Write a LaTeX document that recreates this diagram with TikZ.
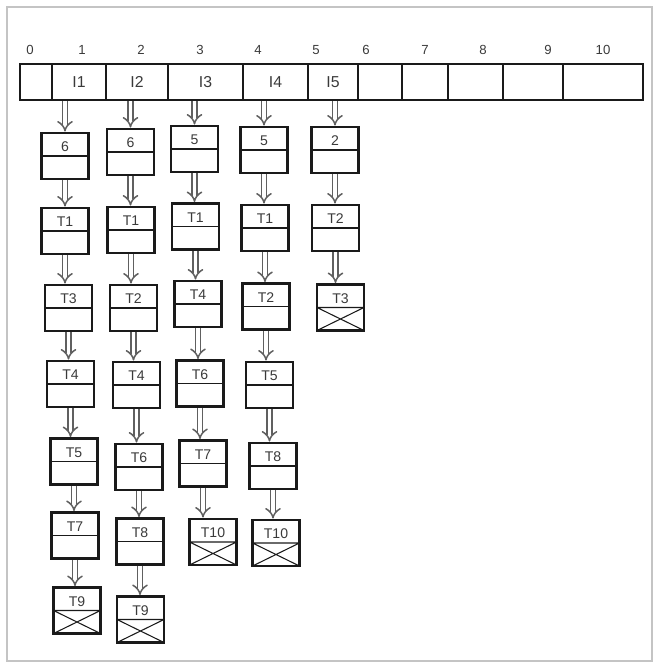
\documentclass[tikz,border=0pt]{standalone}
\usepackage{fontspec}
\setmainfont{Liberation Sans}
\usetikzlibrary{
	arrows.meta,
	positioning
}
\definecolor{FrameGray}{HTML}{C4C4C4}
\definecolor{BoxInk}{HTML}{1A1A1A}
\definecolor{LabelInk}{HTML}{3A3A3A}
\definecolor{ArrowInk}{HTML}{606060}

\begin{document}
\begin{tikzpicture}[
 x=0.02cm,y=-0.02cm,
 font=\fontsize{8}{9}\selectfont,
 acell/.style={draw=BoxInk,line width=1.6pt,minimum height=0.72cm,
   minimum width=#1*0.02cm,inner sep=0pt,text=LabelInk,
   font=\fontsize{9}{10}\selectfont},
 idx/.style={text=LabelInk,font=\fontsize{7.5}{9}\selectfont},
 lnode/.style={draw=BoxInk,line width=1.6pt,minimum width=0.94cm,
   minimum height=0.92cm,inner sep=0pt,text=LabelInk,
   text height=1.6ex,text depth=0.46cm,
   path picture={\draw[line width=.6pt]
     (path picture bounding box.west)--(path picture bounding box.east);}},
 endnode/.style={lnode,
   path picture={\draw[line width=.6pt]
     (path picture bounding box.west)--(path picture bounding box.east)
     (path picture bounding box.west)--(path picture bounding box.south east)
     (path picture bounding box.east)--(path picture bounding box.south west);}},
 flow/.style={draw=ArrowInk,line width=.85pt,double,double distance=2.2pt,
   -{Implies}}
]
 \useasboundingbox (0,0) rectangle (657,668);
 \draw[FrameGray,line width=.8pt] (7,7) rectangle (652,661);

 % array of items
 \foreach \i/\cx/\w/\t in {0/36/32/{},1/79/54/I1,2/137/62/I2,3/205.5/75/I3,
   4/275.5/65/I4,5/333/50/I5,6/380/44/{},7/425/46/{},8/475.5/55/{},
   9/533/60/{},10/603/80/{}}
   \node[acell=\w] (c\i) at (\cx,82) {\t};
 \foreach \i/\lx in {0/30,1/82,2/141,3/200,4/258,5/316,6/366,7/425,
   8/483,9/548,10/603}
   \node[idx] (idx\i) at (\lx,50) {\i};

 % column under I1
 \node[lnode] (n11) at (65,156) {6};
 \node[lnode] (n12) at (65,231) {T1};
 \node[lnode] (n13) at (68.5,308) {T3};
 \node[lnode] (n14) at (70.5,384) {T4};
 \node[lnode] (n15) at (74,461.5) {T5};
 \node[lnode] (n16) at (75,535.5) {T7};
 \node[endnode] (n17) at (77,610.5) {T9};
 % column under I2
 \node[lnode] (n21) at (130.5,152) {6};
 \node[lnode] (n22) at (131,230) {T1};
 \node[lnode] (n23) at (133.5,308) {T2};
 \node[lnode] (n24) at (136.5,385) {T4};
 \node[lnode] (n25) at (139,467) {T6};
 \node[lnode] (n26) at (140,541.5) {T8};
 \node[endnode] (n27) at (140.5,619.5) {T9};
 % column under I3
 \node[lnode] (n31) at (194.5,149) {5};
 \node[lnode] (n32) at (195.5,226.5) {T1};
 \node[lnode] (n33) at (198,304) {T4};
 \node[lnode] (n34) at (200,383.5) {T6};
 \node[lnode] (n35) at (203,463.5) {T7};
 \node[endnode] (n36) at (213,542) {T10};
 % column under I4
 \node[lnode] (n41) at (264,150) {5};
 \node[lnode] (n42) at (265,228) {T1};
 \node[lnode] (n43) at (266,306.5) {T2};
 \node[lnode] (n44) at (269.5,385) {T5};
 \node[lnode] (n45) at (273,466) {T8};
 \node[endnode] (n46) at (276,543) {T10};
 % column under I5
 \node[lnode] (n51) at (335,150) {2};
 \node[lnode] (n52) at (335.5,228) {T2};
 \node[endnode] (n53) at (340.5,307.5) {T3};

 \foreach \c/\n in {c1/n11,c2/n21,c3/n31,c4/n41,c5/n51}
   \draw[flow] (\c.south -| \n.north) -- (\n.north);
 \foreach \a/\b in {n11/n12,n12/n13,n13/n14,n14/n15,n15/n16,n16/n17,
   n21/n22,n22/n23,n23/n24,n24/n25,n25/n26,n26/n27,
   n31/n32,n32/n33,n33/n34,n34/n35,n35/n36,
   n41/n42,n42/n43,n43/n44,n44/n45,n45/n46,
   n51/n52,n52/n53}
   \draw[flow] (\a.south) -- (\a.south |- \b.north);
\end{tikzpicture}
\end{document}
